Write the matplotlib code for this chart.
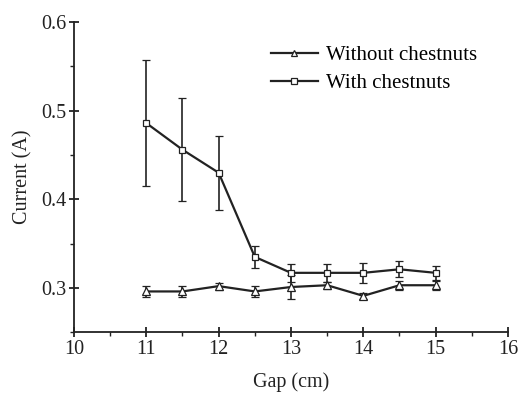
import matplotlib.pyplot as plt
from matplotlib.lines import Line2D
from matplotlib.ticker import MultipleLocator

plt.rcParams['font.family'] = ['Liberation Serif', 'DejaVu Serif']

gap = [11, 11.5, 12, 12.5, 13, 13.5, 14, 14.5, 15]

without_vals = [0.296, 0.296, 0.302, 0.296, 0.301, 0.303, 0.291, 0.303, 0.303]
without_err = [0.006, 0.006, 0.004, 0.006, 0.014, 0.004, 0.003, 0.005, 0.005]

with_vals = [0.486, 0.456, 0.430, 0.335, 0.317, 0.317, 0.317, 0.321, 0.317]
with_err = [0.071, 0.058, 0.042, 0.012, 0.010, 0.010, 0.011, 0.009, 0.008]

labels = ['Without chestnuts', 'With chestnuts']

col = '#222222'

fig = plt.figure(figsize=(5.21, 3.95), dpi=100)
ax = fig.add_axes([0.142, 0.159, 0.833, 0.785])

ax.errorbar(gap, without_vals, yerr=without_err, color=col, lw=1.6,
            marker='^', ms=6, mfc='white', mec=col, mew=0.9,
            ecolor=col, elinewidth=1.2, capsize=3, capthick=1.2)
ax.errorbar(gap, with_vals, yerr=with_err, color=col, lw=1.6,
            marker='s', ms=5, mfc='white', mec=col, mew=0.9,
            ecolor=col, elinewidth=1.2, capsize=3, capthick=1.2)

ax.set_xlim(10, 16)
ax.set_ylim(0.25, 0.6)
ax.xaxis.set_major_locator(MultipleLocator(1))
ax.xaxis.set_minor_locator(MultipleLocator(0.5))
ax.yaxis.set_major_locator(MultipleLocator(0.1))
ax.yaxis.set_minor_locator(MultipleLocator(0.05))

for s in ['top', 'right']:
    ax.spines[s].set_visible(False)
for s in ['left', 'bottom']:
    ax.spines[s].set_linewidth(1.3)
    ax.spines[s].set_color(col)

ax.tick_params(which='major', direction='inout', length=7, width=1.3,
               labelsize=14.5, colors=col, pad=2)
ax.tick_params(which='minor', direction='out', length=3, width=1.0, colors=col)

ax.set_xlabel('Gap (cm)', fontsize=14.5, color=col, labelpad=10)
ax.set_ylabel('Current (A)', fontsize=14.5, color=col, labelpad=6)

handles = [
    Line2D([], [], color=col, lw=1.6, marker='^', ms=5, mfc='white', mec=col, mew=0.9),
    Line2D([], [], color=col, lw=1.6, marker='s', ms=4.5, mfc='white', mec=col, mew=0.9),
]
ax.legend(handles, labels, loc='upper left', bbox_to_anchor=(0.454, 0.924),
          frameon=False, fontsize=15, handlelength=2.25, handletextpad=0.4,
          labelspacing=0.4, borderpad=0, borderaxespad=0)

fig.savefig('out.png', dpi=100)
